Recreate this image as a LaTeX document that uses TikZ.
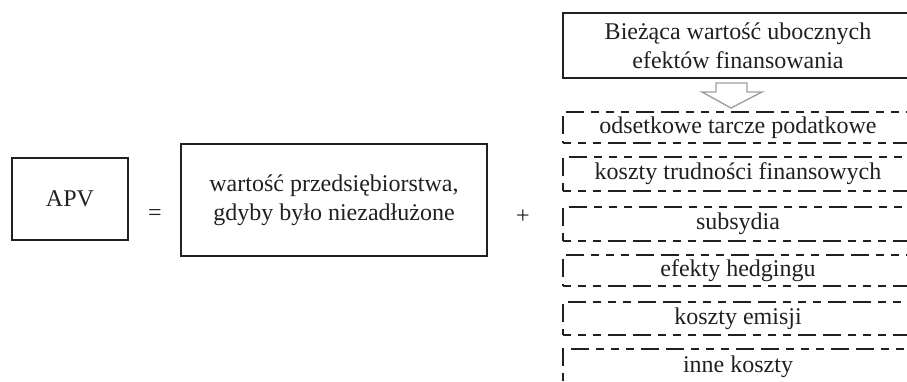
\documentclass[tikz,border=0pt]{standalone}
\usepackage{fontspec}
\setmainfont{Liberation Serif}
\definecolor{ink}{HTML}{231F20}
\definecolor{arrowgray}{HTML}{A0A0A0}
\begin{document}
\begin{tikzpicture}[x=1pt,y=-1pt,
  txt/.style={font=\fontsize{24}{29}\selectfont, text=ink, align=center, inner sep=0pt},
  solidbox/.style={txt, draw=ink, line width=2.8pt},
  dashbox/.style={txt, draw=ink, line width=2.8pt,
    dash pattern=on 8pt off 7pt on 8pt off 7pt on 8pt off 7pt on 18pt off 7pt on 18pt off 7pt,
    minimum width=350pt},
  sign/.style={txt}
]
\useasboundingbox (0,0) rectangle (907,381);
\begin{scope}
\clip (0,0) rectangle (907,381);

% left side of the equation
\node[solidbox, minimum width=116pt, minimum height=82pt] (apv) at (70,199) {APV};
\node[sign] (eq) at (155,215) {=};
\node[solidbox, minimum width=306pt, minimum height=112pt] (unlev) at (334,200)
  {wartość przedsiębiorstwa,\\gdyby było niezadłużone};
\node[sign] (plus) at (523,217) {+};

% present value of financing side effects
\node[solidbox, minimum width=350pt, minimum height=65pt] (pv) at (738,45.5)
  {Bieżąca wartość ubocznych\\efektów finansowania};

% components
\node[dashbox, minimum height=31pt] (e1) at (738,127.5) {odsetkowe tarcze podatkowe};
\node[dashbox, minimum height=34pt] (e2) at (738,174) {koszty trudności finansowych};
\node[dashbox, minimum height=34pt] (e3) at (738,224) {subsydia};
\node[dashbox, minimum height=31pt] (e4) at (738,270.5) {efekty hedgingu};
\node[dashbox, minimum height=33pt] (e5) at (738,318.5) {koszty emisji};
\node[dashbox, minimum height=36pt] (e6) at (738,367) {inne koszty};

% hollow down arrow from the summary box to the list
\coordinate (ar) at (731,83);
\draw[arrowgray, line width=1.4pt, line join=miter]
  (ar) ++(-15,0) -- ++(31,0) -- ++(0,9) -- ++(15,0) -- ++(-31,16)
  -- ++(-29,-16) -- ++(14,0) -- cycle;
\end{scope}
\end{tikzpicture}
\end{document}
